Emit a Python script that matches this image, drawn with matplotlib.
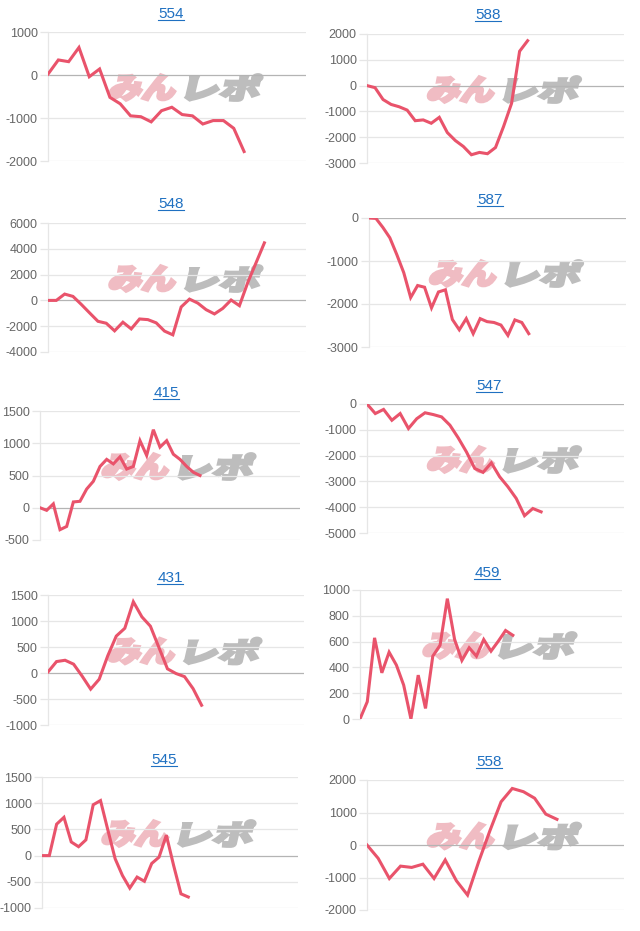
import numpy as np
import matplotlib
matplotlib.use("Agg")
import matplotlib.pyplot as plt
import matplotlib.transforms as mtransforms
from matplotlib.textpath import TextPath
from matplotlib.font_manager import FontProperties
from matplotlib.patches import PathPatch
from matplotlib.lines import Line2D

W, H = 640, 931
DPI = 100

# machine numbers shown above each chart
titles = ["554", "588", "548", "587", "415", "547", "431", "459", "545", "558"]

# balance curves
s554 = [20, 350, 310, 640, -40, 140, -520, -670, -950, -970, -1090, -830, -750,
        -920, -950, -1140, -1060, -1060, -1240, -1780]
s588 = [0, -80, -540, -730, -820, -950, -1360, -1330, -1460, -1230, -1820, -2130,
        -2360, -2680, -2590, -2640, -2400, -1590, -690, 1330, 1740]
s548 = [0, 0, 490, 310, -310, -970, -1620, -1770, -2360, -1690, -2210, -1440,
        -1490, -1740, -2380, -2670, -510, 100, -210, -720, -1050, -620, 30, -410,
        1380, 2920, 4460]
s587 = [0, -10, -220, -460, -850, -1270, -1850, -1570, -1610, -2090, -1720, -1670,
        -2360, -2600, -2340, -2690, -2340, -2410, -2430, -2490, -2730, -2370, -2430,
        -2690]
s415 = [0, -40, 60, -340, -290, 90, 100, 290, 410, 640, 750, 680, 790, 600, 640,
        1040, 810, 1210, 940, 1040, 830, 750, 640, 550, 500]
s547 = [0, -370, -210, -630, -370, -950, -570, -340, -410, -500, -820, -1310, -1860,
        -2500, -2650, -2280, -2820, -3210, -3660, -4330, -4050, -4180]
s431 = [20, 220, 245, 170, -60, -310, -120, 330, 710, 860, 1370, 1080, 900, 490, 80,
        -10, -70, -300, -620]
s459 = [0, 134, 629, 358, 518, 418, 263, 0, 340, 82, 487, 572, 933, 616, 454, 552,
        487, 616, 526, 603, 686, 649]
s545 = [0, 0, 600, 730, 260, 170, 300, 970, 1050, 490, -60, -380, -620, -410, -490,
        -150, -30, 390, -190, -730, -790]
s558 = [0, -410, -1030, -650, -690, -590, -1030, -460, -1100, -1540, -510, 440, 1330,
        1740, 1640, 1440, 950, 790]

series = [s554, s588, s548, s587, s415, s547, s431, s459, s545, s558]

# y axis: (min, max, step)
yaxes = [(-2000, 1000, 1000), (-3000, 2000, 1000), (-4000, 6000, 2000),
         (-3000, 0, 1000), (-500, 1500, 500), (-5000, 0, 1000),
         (-1000, 1500, 500), (0, 1000, 200), (-1000, 1500, 500),
         (-2000, 2000, 1000)]

# layout in pixels: axes box (left, top, right, bottom), title centre, x slots
boxes = [(48, 32, 306, 161), (367, 34, 624, 163),
         (48, 223, 306, 352), (369, 218, 626, 347),
         (40, 411, 300, 540), (367, 404, 624, 533),
         (48, 595, 304, 725), (360, 590, 622, 719),
         (42, 777, 298, 908), (367, 780, 624, 910)]
title_pos = [(171, 14), (488, 15), (171, 204), (490, 200), (166, 393),
             (489, 386), (170, 578), (487, 573), (164, 760), (489, 762)]
slots = [25, 32, 31, 37, 39, 31, 30, 36, 35, 23]

LINE = "#e9536b"
GRID = "#e6e6e6"
ZERO = "#b4b4b4"
FONT = ["Liberation Sans", "DejaVu Sans"]

logo_fp = FontProperties(family="Noto Sans CJK JP", weight="black")


def add_logo(fig, cx, cy):
	# watermark: "みん" pink, "レポ" grey, heavy and leaning right
	parts = [("みん", "#f0bcc3", 73), ("レポ", "#bdbdbd", 80)]
	h = 26
	x = cx - 80
	for txt, col, w in parts:
		tp = TextPath((0, 0), txt, size=100, prop=logo_fp)
		bb = tp.get_extents()
		tr = (mtransforms.Affine2D()
			.translate(-bb.x0, -bb.y0)
			.scale((w - 8) / bb.width, h / bb.height)
			.skew_deg(13, 0)
			.translate(x + 1, H - cy - h / 2))
		patch = PathPatch(tr.transform_path(tp), facecolor=col, edgecolor=col,
			lw=2.0, joinstyle="miter",
			transform=mtransforms.IdentityTransform(), zorder=-1)
		fig.add_artist(patch)
		x += w + 4


fig = plt.figure(figsize=(W / DPI, H / DPI), dpi=DPI)
fig.patch.set_facecolor("white")

title_objs = []
for i in range(len(series)):
	l, t, r, b = boxes[i]
	ax = fig.add_axes([l / W, (H - b) / H, (r - l) / W, (b - t) / H])
	ax.set_facecolor("none")
	lo, hi, step = yaxes[i]
	ticks = np.arange(lo, hi + step / 2, step)
	for v in ticks:
		ax.axhline(v, color=ZERO if v == 0 else GRID, lw=0.9, zorder=1)
	y = series[i]
	ax.plot(range(len(y)), y, color=LINE, lw=2.2, zorder=3, solid_joinstyle="miter")
	ax.set_xlim(0, slots[i])
	ax.set_ylim(lo, hi)
	ax.set_yticks(ticks)
	ax.set_yticklabels([str(int(v)) for v in ticks], fontsize=9, color="#666666", family=FONT)
	ax.tick_params(axis="y", length=6, width=0.9, color=GRID, pad=1.5)
	ax.set_xticks([])
	for s in ["top", "right", "bottom"]:
		ax.spines[s].set_visible(False)
	ax.spines["left"].set_color(GRID)
	ax.spines["left"].set_linewidth(0.9)

	add_logo(fig, (l + r) / 2 + 10, (t + b) / 2 - 9)

	tx, ty = title_pos[i]
	title_objs.append(fig.text(tx / W, 1 - ty / H, titles[i], ha="center", va="center",
		fontsize=11, color="#1f70c1", family=FONT))

# underline the titles like links
fig.canvas.draw()
renderer = fig.canvas.get_renderer()
for t in title_objs:
	bb = t.get_window_extent(renderer)
	yl = bb.y0 + 1
	fig.add_artist(Line2D([bb.x0, bb.x1], [yl, yl], color="#1f70c1", lw=0.8,
		transform=mtransforms.IdentityTransform()))

fig.savefig("out.png", dpi=DPI, facecolor="white")
